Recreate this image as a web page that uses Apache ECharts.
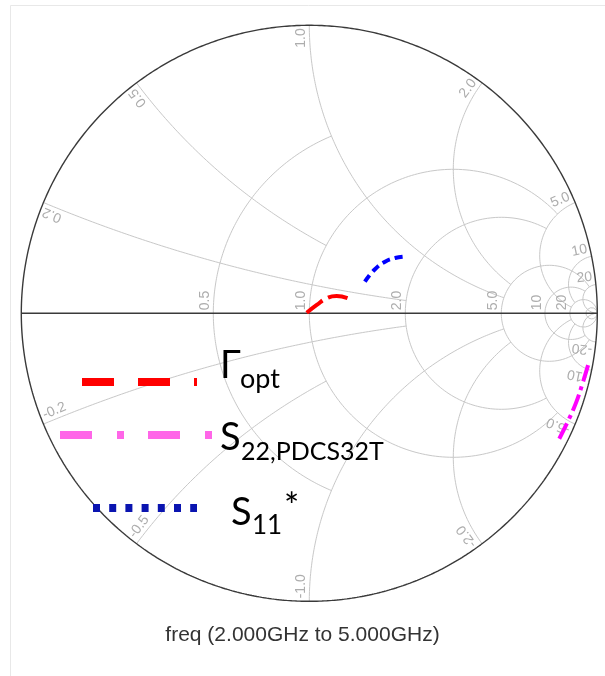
<!DOCTYPE html>
<html><head><meta charset="utf-8">
<script src="https://cdn.jsdelivr.net/npm/echarts@6/dist/echarts.min.js"></script>
<style>html,body{margin:0;padding:0;background:#fff}#c{width:605px;height:676px}</style>
</head><body><div id="c"></div>
<script>
// ---- Smith chart grid values ----
const rValues = [0.5, 1, 2, 5, 10, 20, 50];
const rLimits = [1, 5, 5, 20, 20, Infinity, Infinity];   // |x| extent of each r circle
const rLabels = ['0.5', '1.0', '2.0', '5.0', '10', '20', ''];
const xValues = [0.2, 0.5, 1, 2, 5, 10, 20];
const xLimits = [2, 1, 5, 5, 20, 20, Infinity];          // r extent of each x arc
const xLabelsPos = ['0.2', '0.5', '1.0', '2.0', '5.0', '10', '20'];
const xLabelsNeg = ['-0.2', '-0.5', '-1.0', '-2.0', '-5.0', '-10', '-20'];

const gammaOptRe = [-0.009, 0.026, 0.060, 0.095, 0.135];
const gammaOptIm = [0.002, 0.029, 0.052, 0.060, 0.052];
const s11Re = [0.193, 0.228, 0.263, 0.298, 0.327];
const s11Im = [0.110, 0.153, 0.179, 0.192, 0.197];
const s22Re = [0.968, 0.947, 0.926, 0.895, 0.864];
const s22Im = [-0.180, -0.249, -0.311, -0.381, -0.443];

const titleText = 'freq (2.000GHz to 5.000GHz)';

function gam(r, x) {
  const a = r - 1, b = x, c = r + 1, d = x, den = c * c + d * d;
  return [(a * c + b * d) / den, (b * c - a * d) / den];
}
function rCircle(r, L) {
  const S = isFinite(L) ? L / (1 + L) : 1, N = 600, pts = [];
  for (let i = 0; i <= N; i++) {
    const s = -S + 2 * S * i / N, a = Math.abs(s);
    const x = a >= 1 ? (s > 0 ? 1e9 : -1e9) : s / (1 - a);
    pts.push(gam(r, x));
  }
  return pts;
}
function xArc(x, L) {
  const T = isFinite(L) ? L / (1 + L) : 1, N = 400, pts = [];
  for (let i = 0; i <= N; i++) {
    const t = T * i / N, r = t >= 1 ? 1e9 : t / (1 - t);
    pts.push(gam(r, x));
  }
  return pts;
}
function zip(a, b) { return a.map((v, i) => [v, b[i]]); }

const GRID = '#c8c8c8';
const series = [];
function addLine(pts, color, width, z) {
  series.push({ type: 'line', data: pts, showSymbol: false, silent: true, clip: false,
    lineStyle: { color: color, width: width }, z: z, animation: false });
}
rValues.forEach((r, i) => addLine(rCircle(r, rLimits[i]), GRID, 1, 1));
xValues.forEach((x, i) => {
  addLine(xArc(x, xLimits[i]), GRID, 1, 1);
  addLine(xArc(-x, xLimits[i]), GRID, 1, 1);
});
// outer circle (r = 0) and real axis
const outer = [];
for (let i = 0; i <= 720; i++) { const a = i / 720 * 2 * Math.PI; outer.push([Math.cos(a), Math.sin(a)]); }
addLine(outer, '#3a3a3a', 1.4, 3);
addLine([[-1, 0], [1, 0]], '#3a3a3a', 1.4, 3);

// grid labels
const labelItems = [];
rValues.forEach((r, i) => {
  if (!rLabels[i]) return;
  labelItems.push({ p: [(r - 1) / (r + 1), 0], text: rLabels[i], rot: 90, align: 'left', dx: 3 });
});
xValues.forEach((x, i) => {
  const g = gam(0, x), th = Math.atan2(g[1], g[0]) * 180 / Math.PI;
  labelItems.push({ p: [g[0], g[1]], text: xLabelsPos[i], rot: th, align: 'right', dx: -3 });
  labelItems.push({ p: [g[0], -g[1]], text: xLabelsNeg[i], rot: 180 - th, align: 'left', dx: 3 });
});
series.push({
  type: 'custom', data: labelItems.map(l => l.p), silent: true, z: 4, animation: false, clip: false,
  renderItem: function (params, api) {
    const it = labelItems[params.dataIndex];
    const p = api.coord([api.value(0), api.value(1)]);
    return { type: 'text', x: p[0], y: p[1], rotation: it.rot * Math.PI / 180,
      style: { text: it.text, x: it.dx, y: -1, align: it.align, verticalAlign: 'bottom',
        fill: '#adadad', font: '14px "Liberation Sans", Arial, sans-serif' } };
  }
});

// traces
series.push({ type: 'line', data: zip(gammaOptRe, gammaOptIm), smooth: true, showSymbol: false, z: 6, animation: false,
  lineStyle: { color: '#ff0000', width: 4, type: [20, 6] } });
series.push({ type: 'line', data: zip(s11Re, s11Im), smooth: true, showSymbol: false, z: 6, animation: false,
  lineStyle: { color: '#0000ff', width: 4, type: [8, 5] } });
series.push({ type: 'line', data: zip(s22Re, s22Im), smooth: true, showSymbol: false, z: 6, animation: false,
  lineStyle: { color: '#ff00ff', width: 4, type: [17, 5, 4, 5] } });

const R = 288, CX = 309.3, CY = 313.3;
const F = 'Lato, "Open Sans", sans-serif';
function txt(x, y, s, size) {
  return { type: 'text', x: x, y: y, z: 100, silent: true,
    style: { text: s, font: size + 'px ' + F, fill: '#000', verticalAlign: 'middle', align: 'left' } };
}
const option = {
  animation: false,
  backgroundColor: '#fff',
  grid: { left: CX - R, top: CY - R, width: 2 * R, height: 2 * R },
  xAxis: { type: 'value', min: -1, max: 1, show: false },
  yAxis: { type: 'value', min: -1, max: 1, show: false },
  title: { text: titleText, left: 'center', top: 620,
    textStyle: { fontSize: 21, fontWeight: 'normal', color: '#333', fontFamily: '"Liberation Sans", Arial, sans-serif' } },
  graphic: [
    { type: 'rect', z: 0, silent: true, shape: { x: 10.5, y: 5.5, width: 700, height: 700 }, style: { fill: 'none', stroke: '#e8e8e8', lineWidth: 1 } },
    { type: 'line', z: 100, silent: true, shape: { x1: 82, y1: 382, x2: 197, y2: 382 }, style: { stroke: '#ff0000', lineWidth: 8, lineDash: [32, 24] } },
    { type: 'line', z: 100, silent: true, shape: { x1: 60, y1: 435, x2: 212, y2: 435 }, style: { stroke: '#ff66e8', lineWidth: 8, lineDash: [32, 25, 7, 24] } },
    { type: 'line', z: 100, silent: true, shape: { x1: 93, y1: 508, x2: 197, y2: 508 }, style: { stroke: '#0a14b0', lineWidth: 8, lineDash: [7, 9.2] } },
    txt(220, 366, 'Γ', 38), txt(240, 379, 'opt', 27),
    txt(220, 438, 'S', 38), txt(241, 452, '22,PDCS32T', 25),
    txt(231, 513, 'S', 38), txt(252, 526, '11', 26), txt(284, 507, '*', 36)
  ],
  series: series
};
const chart = echarts.init(document.getElementById('c'));
chart.setOption(option);
</script></body></html>
